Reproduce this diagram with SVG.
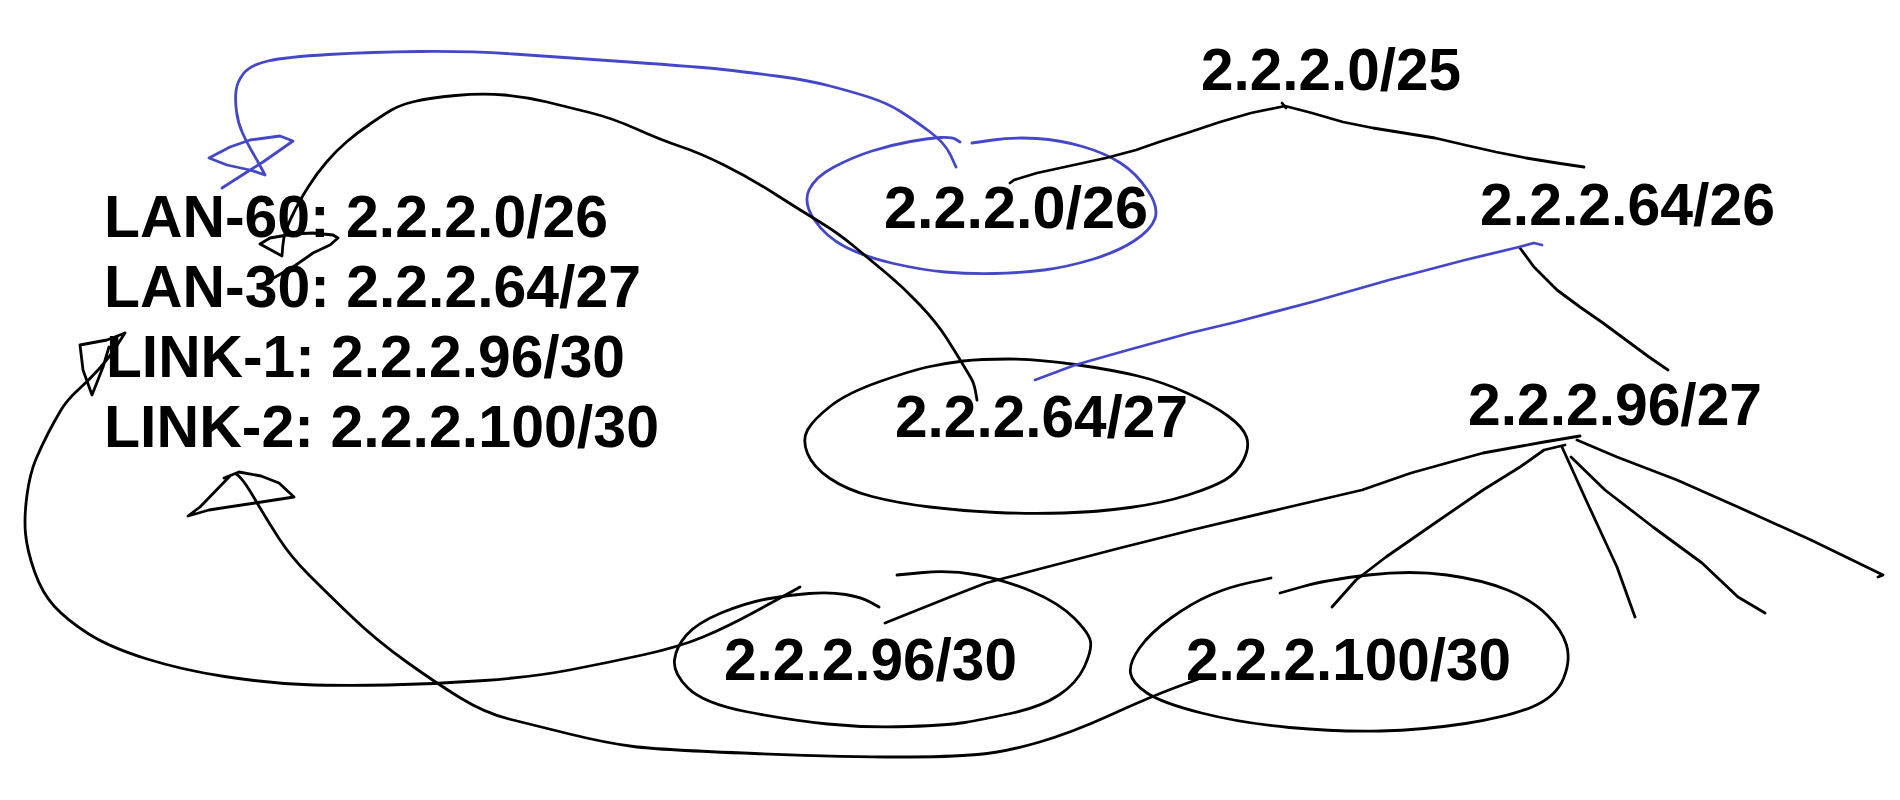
<svg xmlns="http://www.w3.org/2000/svg" width="1900" height="800" viewBox="0 0 1900 800">
<style>
.t{font-family:"Liberation Sans",Arial,sans-serif;font-weight:bold;font-size:59px;fill:#000}
.k{fill:none;stroke:#000;stroke-width:2.8;stroke-linejoin:round;stroke-linecap:round}
.b{fill:none;stroke:#4447c8;stroke-width:2.8;stroke-linejoin:round;stroke-linecap:round}
</style>
<rect width="1900" height="800" fill="#fff"/>
<g id="legend">
<text class="t" x="104" y="237" textLength="504" lengthAdjust="spacingAndGlyphs">LAN-60: 2.2.2.0/26</text>
<text class="t" x="104" y="307" textLength="537" lengthAdjust="spacingAndGlyphs">LAN-30: 2.2.2.64/27</text>
<text class="t" x="106" y="377" textLength="519" lengthAdjust="spacingAndGlyphs">LINK-1: 2.2.2.96/30</text>
<text class="t" x="104" y="447" textLength="555" lengthAdjust="spacingAndGlyphs">LINK-2: 2.2.2.100/30</text>
</g>
<g id="n-2.2.2.0-25"><text class="t" x="1201" y="90" textLength="260" lengthAdjust="spacingAndGlyphs">2.2.2.0/25</text></g>
<g id="n-2.2.2.0-26">
<path class="b" d="M972,143 L993,140 Q1014,137 1037,138.5 Q1060,140 1082.5,146.5 Q1105,153 1120.5,163 Q1136,173 1147.5,190 Q1159,207 1155,218.5 Q1151,230 1134,241 Q1117,252 1092,259.5 Q1067,267 1044,270 Q1021,273 994.5,273.5 Q968,274 945,272 Q922,270 893.5,263.5 Q865,257 845.5,247 Q826,237 814.5,220 Q803,203 809,190 Q815,177 834,167 Q853,157 872,151 Q891,145 910.5,141.5 Q930,138 941,137.5 Q952,137 956,139.5 L960,142"/>
<text class="t" x="884" y="228" textLength="264" lengthAdjust="spacingAndGlyphs">2.2.2.0/26</text>
</g>
<g id="n-2.2.2.64-26"><text class="t" x="1480" y="225" textLength="295" lengthAdjust="spacingAndGlyphs">2.2.2.64/26</text></g>
<g id="n-2.2.2.64-27">
<path class="k" d="M1008.5,359 Q1037,359 1075,364.5 Q1113,370 1138,376 Q1163,382 1188,393.5 Q1213,405 1228,416 Q1243,427 1246.5,437 Q1250,447 1243.5,460 Q1237,473 1225,480 Q1213,487 1188,495 Q1163,503 1130,507.5 Q1097,512 1063.5,513 Q1030,514 996.5,512.5 Q963,511 930,507 Q897,503 872,496.5 Q847,490 830,478.5 Q813,467 807.5,453.5 Q802,440 807.5,430 Q813,420 830,406.5 Q847,393 880,381.5 Q913,370 930,366.5 Q947,363 963.5,361 Q980,359 1008.5,359 Z"/>
<text class="t" x="895" y="437" textLength="293" lengthAdjust="spacingAndGlyphs">2.2.2.64/27</text>
</g>
<g id="n-2.2.2.96-27"><text class="t" x="1468" y="425" textLength="294" lengthAdjust="spacingAndGlyphs">2.2.2.96/27</text></g>
<g id="n-2.2.2.96-30">
<path class="k" d="M897,575 L923.5,572.5 Q950,570 977.5,575 Q1005,580 1032,591.5 Q1059,603 1074,618 Q1089,633 1090.5,641.5 Q1092,650 1084.5,666.5 Q1077,683 1059,695 Q1041,707 1010.5,713.5 Q980,720 965,722.5 Q950,725 908.5,726.5 Q867,728 827.5,724 Q788,720 745.5,711.5 Q703,703 688,688 Q673,673 674.5,660 Q676,647 686.5,635 Q697,623 721,613 Q745,603 766.5,599 Q788,595 809,593.5 Q830,592 845.5,594.5 Q861,597 870,602 L879,607"/>
<text class="t" x="724" y="680" textLength="293" lengthAdjust="spacingAndGlyphs">2.2.2.96/30</text>
</g>
<g id="n-2.2.2.100-30">
<path class="k" d="M1280,593 L1303,586.5 Q1326,580 1368.5,575 Q1411,570 1447,575 Q1483,580 1507.5,590 Q1532,600 1547,615 Q1562,630 1566.5,645 Q1571,660 1563.5,678.5 Q1556,697 1532,707 Q1508,717 1465.5,723.5 Q1423,730 1380.5,731 Q1338,732 1289.5,727.5 Q1241,723 1201.5,713 Q1162,703 1147,693 Q1132,683 1130.5,673 Q1129,663 1139.5,648 Q1150,633 1171,618 Q1192,603 1210.5,595 Q1229,587 1250,582.5 L1271,578"/>
<text class="t" x="1186" y="680" textLength="325" lengthAdjust="spacingAndGlyphs">2.2.2.100/30</text>
</g>
<g id="connectors">
<path class="k" d="M1010,183 L1014,180 1037,173 1060,168 1106,158 1136,150 1159,142 1190,132 1220,122 1251,113 1285,106 1312,113 1343,122 1373,128 1404,133 1435,138 1465,145 1496,152 1526,158 1557,163 1584,167"/>
<path class="k" d="M1282,103 L1286,108"/>
<path class="k" d="M1520,248 L1534,267 1557,290 1580,307 1603,323 1626,340 1649,357 1668,370"/>
<path class="b" d="M1542,245 L1534,243 1519,247 1465,260 1389,280 1312,302 1236,322 1190,333 1128,350 1075,365 1035,380"/>
<path class="k" d="M1580,436 L1544,442 1483,453 1411,473 1362,490 1289,507 1192,530 1120,548 1047,567 986,583 950,597 885,623"/>
<path class="k" d="M1565,445 L1544,450 1520,467 1483,490 1435,523 1386,557 1356,580 1332,607"/>
<path class="k" d="M1562,447 L1586,500 1617,567 1635,617"/>
<path class="k" d="M1571,457 L1605,490 1653,527 1702,563 1738,597 1765,613"/>
<path class="k" d="M1577,440 L1617,457 1677,480 1738,507 1811,540 1883,575 1878,577"/>
<path class="b" d="M956,167 L950.5,155 Q945,143 929.5,131.5 Q914,120 900.5,111.5 Q887,103 870,97.5 Q853,92 830,86 Q807,80 776.5,76 Q746,72 723,69.5 Q700,67 629,62 Q558,57 513.5,54 Q469,51 420,51.5 Q371,52 328.5,54.5 Q286,57 268,61 Q250,65 243.5,73.5 Q237,82 236,91 Q235,100 236.5,111.5 Q238,123 242.5,133 Q247,143 252,151.5 Q257,160 261,167.5 L265,175 L250,170 227,165 209,158 230,147 250,140 280,136 293,141 283,148 263,162 247,172 222,188"/>
<path class="k" d="M977,400 L975.5,391.5 Q974,383 971,378 Q968,373 962,363 Q956,353 946.5,338 Q937,323 920,305 Q903,287 885.5,272.5 Q868,258 853,245.5 Q838,233 819,221.5 Q800,210 775,194 Q750,178 725,165.5 Q700,153 680.5,146.5 Q661,140 636.5,129 Q612,118 589.5,112.5 Q567,107 547,102 Q527,97 504.5,95 Q482,93 455.5,95.5 Q429,98 414.5,101.5 Q400,105 391.5,110 Q383,115 370,124 Q357,133 347,141.5 Q337,150 327,161.5 Q317,173 308.5,186.5 Q300,200 295,210 Q290,220 286.5,228.5 Q283,237 282,256 L260,244 270,238 293,234 313,233 333,235 338,238 330,245 313,253 293,267 270,280"/>
<path class="k" d="M800,587 L791,592 Q782,597 754.5,612 Q727,627 703,637 Q679,647 642.5,655 Q606,663 569.5,670 Q533,677 484.5,680.5 Q436,684 387.5,685 Q339,686 303,684.5 Q267,683 224.5,676.5 Q182,670 145.5,658.5 Q109,647 88,633.5 Q67,620 54.5,606.5 Q42,593 34.5,571.5 Q27,550 25.5,533.5 Q24,517 27,495 Q30,473 36,459 Q42,445 48.5,432.5 Q55,420 61,410 Q67,400 78,390 Q89,380 99,369 Q109,358 116,347 L123,336 125,333 107,340 80,345 83,370 92,395 103,367 109,347"/>
<path class="k" d="M1201,678 L1175.5,687.5 Q1150,697 1110.5,715 Q1071,733 1038,742.5 Q1005,752 977.5,754.5 Q950,757 899,757 Q848,757 754.5,753.5 Q661,750 633.5,746.5 Q606,743 569.5,734 Q533,725 509,719 Q485,713 460.5,698 Q436,683 406,661.5 Q376,640 351.5,616.5 Q327,593 309,575 Q291,557 279,538.5 Q267,520 254.5,498.5 Q242,477 236,474"/>
<path class="k" d="M224,478 L239,472 261,476 279,483 294,497 255,503 209,510 188,516 200,507 230,476"/>
</g>
</svg>
